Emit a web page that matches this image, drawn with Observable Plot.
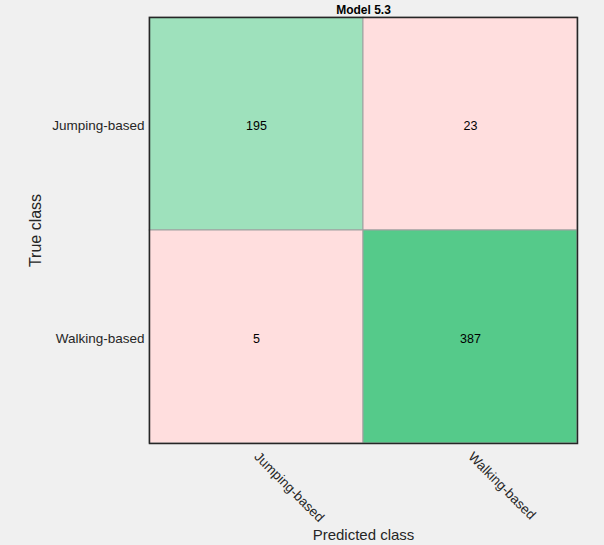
<!DOCTYPE html>
<html>
<head>
<meta charset="utf-8">
<script src="https://cdn.jsdelivr.net/npm/d3@7"></script>
<script src="https://cdn.jsdelivr.net/npm/@observablehq/plot@0.6"></script>
<style>
  html, body { margin: 0; padding: 0; background: #f0f0f0; }
  #chart svg { display: block; background: #f0f0f0; }
</style>
</head>
<body>
<div id="chart"></div>
<script>
const classes = ["Jumping-based", "Walking-based"];
const trueClass = ["Jumping-based", "Jumping-based", "Walking-based", "Walking-based"];
const predClass = ["Jumping-based", "Walking-based", "Jumping-based", "Walking-based"];
const counts = [195, 23, 5, 387];
const title = "Model 5.3";

const data = counts.map((v, i) => ({true: trueClass[i], pred: predClass[i], value: v}));
const diagMax = d3.max(data.filter(d => d.true === d.pred), d => d.value);
const greenLight = d3.color("#e9f8ef"), greenDark = d3.color("#55ca8a");
const colorOf = d => d.true === d.pred
  ? d3.interpolateRgb(greenLight, greenDark)(d.value / diagMax)
  : "#ffdede";

const font = "'Liberation Sans', Arial, Helvetica, sans-serif";

const chart = Plot.plot({
  width: 604,
  height: 545,
  marginLeft: 149,
  marginRight: 27,
  marginTop: 17,
  marginBottom: 102,
  style: {background: "#f0f0f0", fontFamily: font, fontSize: "13.5px", color: "#262626"},
  x: {domain: classes, padding: 0, label: null, tickSize: 0, tickRotate: 45, tickPadding: 11},
  y: {domain: classes, padding: 0, label: null, axis: null},
  marks: [
    Plot.cell(data, {x: "pred", y: "true", fill: colorOf, stroke: "#a0a0a0", strokeWidth: 1}),
    Plot.text(data, {x: "pred", y: "true", dy: 2, text: d => String(d.value), fill: "#000", fontSize: 12.5}),
    Plot.axisY({tickSize: 0, tickPadding: 5, dy: 2, label: null}),
    Plot.frame({stroke: "#262626", strokeWidth: 1.5}),
    Plot.text([title], {frameAnchor: "top", dy: -4, text: d => d, fontWeight: "bold", fontSize: 12, fill: "#000", lineAnchor: "bottom"}),
    Plot.text(["Predicted class"], {frameAnchor: "bottom", dy: 92, text: d => d, fontSize: 15, fill: "#262626", lineAnchor: "middle"}),
    Plot.text(["True class"], {frameAnchor: "left", dx: -114, rotate: -90, textAnchor: "middle", text: d => d, fontSize: 16, fill: "#262626"})
  ]
});
document.getElementById("chart").appendChild(chart);
</script>
</body>
</html>
